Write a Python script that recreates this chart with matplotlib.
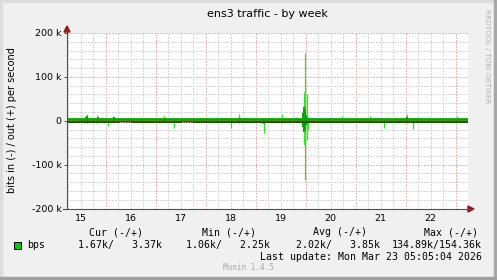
import numpy as np
import matplotlib
matplotlib.use("Agg")
import matplotlib.pyplot as plt
from matplotlib.patches import Rectangle, Polygon
from matplotlib.lines import Line2D

W, H = 497, 280

# --- data (days of March, midnight = integer) ---
day_labels = ["15", "16", "17", "18", "19", "20", "21", "22"]
day_pos = [15.5, 16.5, 17.5, 18.5, 19.5, 20.5, 21.5, 22.5]

avg_days = [15.226, 15.5, 15.75, 16.0, 16.25, 16.5, 16.75, 17.0, 17.25, 17.5, 17.75,
            18.0, 18.25, 18.5, 18.75, 19.0, 19.25, 19.5, 19.75, 20.0, 20.25, 20.5,
            20.75, 21.0, 21.25, 21.5, 21.75, 22.0, 22.25, 22.5, 22.75, 23.0, 23.25]
out_avg = [3.5, 3.9, 3.4, 3.6, 3.3, 3.5, 3.6, 3.4, 3.5, 3.3, 3.6,
           3.4, 3.7, 3.5, 3.6, 3.8, 3.5, 3.9, 4.2, 4.0, 3.6, 3.5,
           3.7, 3.4, 3.8, 3.5, 3.6, 3.9, 3.5, 3.4, 3.6, 3.5, 3.4]
in_avg = [-1.9, -2.3, -1.8, -2.0, -1.7, -1.9, -2.0, -1.8, -1.9, -1.7, -2.0,
          -1.8, -2.1, -1.9, -2.0, -2.2, -1.9, -2.2, -2.5, -2.3, -2.0, -1.9,
          -2.1, -1.8, -2.1, -1.9, -2.0, -2.2, -1.9, -1.8, -2.0, -1.9, -1.8]

# short bursts in the averages (k)
burst_days = [15.60, 15.63, 15.84, 16.16, 17.18, 18.68, 19.17, 19.95, 19.97, 19.99, 20.01, 22.03]
burst_out = [9, 11, 8, 8, 6, 7, 3, 18, 32, 27, 12, 8]
burst_in = [-3, -4, -3, -2, -2, -3, -8, -14, -25, -22, -10, -4]

# peaks (max) in k
peak_days = [15.49, 15.62, 15.83, 15.95, 16.05, 16.15, 17.17, 17.37, 18.50, 18.67,
             19.17, 19.53, 19.96, 19.99, 20.02, 20.05, 20.73, 21.29, 21.57, 22.03,
             22.15, 23.03]
peak_out = [7, 16, 13, 8, 5, 11, 11, 4, 4, 16, 5, 16, 66, 154, 60, 8, 11, 11, 5, 16, 6, 11]
peak_in = [-3, -5, -4, -3, -11, -3, -3, -16, -16, -4, -27, -4, -55, -134, -45, -20,
           -3, -3, -16, -5, -18, -3]

ytick_vals = [-200, -100, 0, 100, 200]
ytick_labels = ["-200 k", "-100 k", "0", "100 k", "200 k"]

DARK = "#00AA00"
BRIGHT = "#22EE22"


def fx(px):
    return px / W


def fy(py):
    return 1 - py / H


fig = plt.figure(figsize=(W / 100, H / 100), dpi=100, facecolor="#F0F0F0")

# 3d-ish frame
fig.patches.append(Rectangle((0, 0), fx(2), 1, transform=fig.transFigure, color="#DCDCDC", zorder=0))
fig.patches.append(Rectangle((0, fy(2)), 1, 2 / H, transform=fig.transFigure, color="#DCDCDC", zorder=0))
fig.patches.append(Rectangle((fx(494), 0), fx(3), 1, transform=fig.transFigure, color="#A8A8A8", zorder=0))
fig.patches.append(Rectangle((0, 0), 1, 3 / H, transform=fig.transFigure, color="#A0A0A0", zorder=0))

x0, x1, ytop, ybot = 67, 468, 33, 208.5
ax = fig.add_axes([fx(x0), fy(ybot), fx(x1 - x0), (ybot - ytop) / H])
ax.set_facecolor("white")
xmin, xmax = 15.226, 23.25
ax.set_xlim(xmin, xmax)
ax.set_ylim(-200, 200)
for s in ax.spines.values():
    s.set_visible(False)

# grid
dot = (0, (1, 1))
gkw = dict(lw=1.0, ls=dot, zorder=1, antialiased=False)
for v in np.arange(15.25, 23.25, 0.25):
    if abs(v - round(v)) > 1e-6:
        ax.axvline(v, color="#D6D6D6", **gkw)
for v in range(16, 24):
    ax.axvline(v, color="#F0B4B4", **gkw)
for v in range(-180, 200, 20):
    if v % 100 != 0:
        ax.axhline(v, color="#D6D6D6", **gkw)
for v in [-100, 0, 100, 200]:
    ax.axhline(v, color="#F0B4B4", **gkw)

# data
ax.vlines(peak_days, 0, peak_out, color=BRIGHT, lw=0.9, zorder=2)
ax.vlines(peak_days, 0, peak_in, color=BRIGHT, lw=0.9, zorder=2)
ax.vlines(burst_days, 0, burst_out, color=DARK, lw=1.5, zorder=3)
ax.vlines(burst_days, 0, burst_in, color=DARK, lw=1.5, zorder=3)
ax.step(avg_days, in_avg, where="post", color=DARK, lw=0.8, zorder=4)
ax.step(avg_days, out_avg, where="post", color=DARK, lw=2.0, zorder=4)
ax.axhline(-1.4, color="#EE0000", lw=1.0, zorder=5)
ax.axhline(-3.6, color="black", lw=0.6, ls=dot, zorder=5)

ax.set_xticks(day_pos)
ax.set_xticklabels(day_labels)
ax.set_yticks(ytick_vals)
ax.set_yticklabels(ytick_labels)
ax.tick_params(axis="x", length=0, pad=4, labelsize=6.8)
ax.tick_params(axis="y", length=2, width=0.7, color="#505050", pad=2, labelsize=6.8)

# axis lines and arrows
fig.add_artist(Line2D([fx(x0), fx(x0)], [fy(ybot + 0.5), fy(29)], color="#505050", lw=0.8))
fig.add_artist(Line2D([fx(63), fx(472)], [fy(ybot + 0.5), fy(ybot + 0.5)], color="#505050", lw=0.8))
fig.add_artist(Polygon([[fx(64), fy(32)], [fx(70), fy(32)], [fx(67), fy(26)]],
                       closed=True, transform=fig.transFigure, color="#8B1A1A"))
fig.add_artist(Polygon([[fx(468), fy(206)], [fx(468), fy(212)], [fx(474), fy(209)]],
                       closed=True, transform=fig.transFigure, color="#8B1A1A"))

# texts
fig.text(fx(267.5), fy(14), "ens3 traffic - by week", ha="center", va="center", fontsize=8)
fig.text(fx(12), fy(120), "bits in (-) / out (+) per second", rotation=90,
         ha="center", va="center", fontsize=7)
fig.text(fx(487), fy(56), "RRDTOOL / TOBI OETIKER", rotation=270, ha="center", va="center",
         fontsize=5.3, color="#B0B0B0")

mono = "DejaVu Sans Mono"
fs = 7.1
for x, t in [(89, "Cur (-/+)"), (202, "Min (-/+)"), (313, "Avg (-/+)"), (424, "Max (-/+)")]:
    fig.text(fx(x), fy(232.3), t, family=mono, fontsize=fs, ha="left", va="center")
fig.patches.append(Rectangle((fx(13.5), fy(248.5)), fx(7), 7 / H, transform=fig.transFigure,
                             facecolor="#00CC00", edgecolor="black", lw=0.7))
fig.text(fx(27), fy(245), "bps", family=mono, fontsize=fs, ha="left", va="center")
for x, t in [(78, "1.67k/   3.37k"), (186, "1.06k/   2.25k"), (296, "2.02k/   3.85k"),
             (392, "134.89k/154.36k")]:
    fig.text(fx(x), fy(245), t, family=mono, fontsize=fs, ha="left", va="center")
fig.text(fx(482), fy(256.7), "Last update: Mon Mar 23 05:05:04 2026", family=mono,
         fontsize=fs, ha="right", va="center")
fig.text(fx(248.5), fy(268), "Munin 1.4.5", family=mono, fontsize=5.5, color="#A8A8A8",
         ha="center", va="center")

fig.savefig("out.png", dpi=100, facecolor=fig.get_facecolor())
